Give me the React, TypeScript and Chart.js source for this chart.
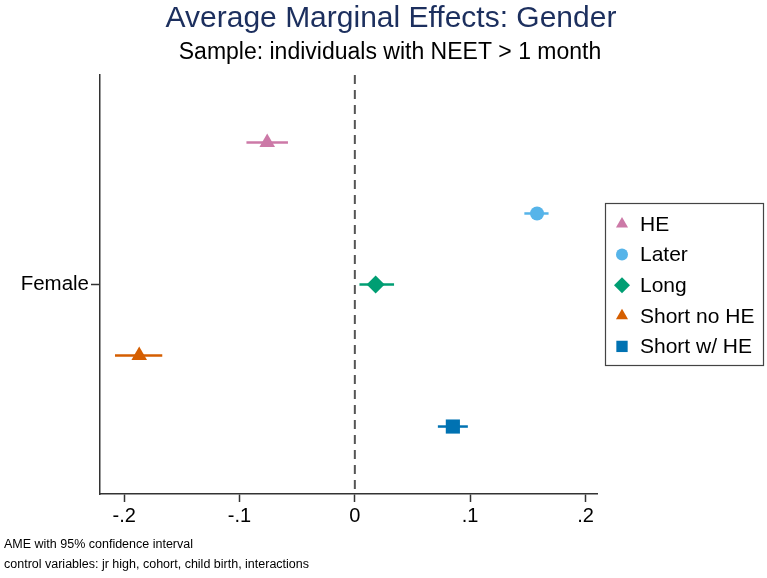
import React, { useEffect, useRef } from "react";
import { Chart, registerables } from "chart.js";

Chart.register(...registerables);

const seriesNames = ["HE", "Later", "Long", "Short no HE", "Short w/ HE"];
const estimates = [-0.076, 0.158, 0.018, -0.187, 0.085];
const ciLower = [-0.094, 0.147, 0.004, -0.208, 0.072];
const ciUpper = [-0.058, 0.168, 0.034, -0.167, 0.098];
const rowOffsets = [2, 1, 0, -1, -2];
const colors = ["#cc79a7", "#56b4e9", "#009e73", "#d55e00", "#0072b2"];
const markers = ["triangle", "circle", "rectRot", "triangle", "rect"];
const markerRadius = [9, 7, 9, 9, 10];
const xTicks = [-0.2, -0.1, 0, 0.1, 0.2];
const yCategory = "Female";

const FONT = "'Liberation Sans', Arial, sans-serif";

function fmt(v: number) {
  if (Math.abs(v) < 1e-9) return "0";
  const s = v.toFixed(1);
  return s.replace("0.", ".");
}

function drawPt(ctx: CanvasRenderingContext2D, style: string, r: number, x: number, y: number, c: string) {
  ctx.save();
  ctx.fillStyle = c;
  ctx.beginPath();
  if (style === "triangle") {
    const rad = -Math.PI / 2;
    ctx.moveTo(x + Math.cos(rad) * r, y + Math.sin(rad) * r);
    ctx.lineTo(x + Math.cos(rad + (2 * Math.PI) / 3) * r, y + Math.sin(rad + (2 * Math.PI) / 3) * r);
    ctx.lineTo(x + Math.cos(rad + (4 * Math.PI) / 3) * r, y + Math.sin(rad + (4 * Math.PI) / 3) * r);
    ctx.closePath();
  } else if (style === "circle") {
    ctx.arc(x, y, r, 0, Math.PI * 2);
  } else if (style === "rectRot") {
    ctx.moveTo(x, y - r);
    ctx.lineTo(x + r, y);
    ctx.lineTo(x, y + r);
    ctx.lineTo(x - r, y);
    ctx.closePath();
  } else {
    const s = r * Math.SQRT1_2;
    ctx.rect(x - s, y - s, 2 * s, 2 * s);
  }
  ctx.fill();
  ctx.restore();
}

const decorPlugin = {
  id: "decor",
  beforeDatasetsDraw(chart: any) {
    const { ctx, chartArea, scales } = chart;
    const x0 = scales.x.getPixelForValue(0);
    ctx.save();
    ctx.strokeStyle = "#555555";
    ctx.lineWidth = 2;
    ctx.setLineDash([9, 6]);
    ctx.beginPath();
    ctx.moveTo(x0, chartArea.top);
    ctx.lineTo(x0, chartArea.bottom);
    ctx.stroke();
    ctx.restore();
  },
  afterDraw(chart: any) {
    const { ctx } = chart;
    ctx.save();
    ctx.textAlign = "center";
    ctx.textBaseline = "middle";
    ctx.fillStyle = "#1c2f5e";
    ctx.font = `30px ${FONT}`;
    ctx.fillText("Average Marginal Effects: Gender", 391, 19);
    ctx.fillStyle = "#000000";
    ctx.font = `23px ${FONT}`;
    ctx.fillText("Sample: individuals with NEET > 1 month", 390, 53);

    ctx.textAlign = "left";
    ctx.font = `12.5px ${FONT}`;
    ctx.fillText("AME with 95% confidence interval", 4, 545);
    ctx.fillText("control variables: jr high, cohort, child birth, interactions", 4, 565);

    const lx = 605, ly = 203, lw = 158, lh = 162;
    ctx.fillStyle = "#ffffff";
    ctx.fillRect(lx, ly, lw, lh);
    ctx.strokeStyle = "#444444";
    ctx.lineWidth = 1.2;
    ctx.strokeRect(lx + 0.5, ly + 0.5, lw, lh);
    const legendR = [7, 6, 8, 7, 8];
    seriesNames.forEach((name, i) => {
      const yy = 224 + i * 30.6;
      drawPt(ctx, markers[i], legendR[i], 622, yy, colors[i]);
      ctx.fillStyle = "#000000";
      ctx.font = `21px ${FONT}`;
      ctx.textBaseline = "middle";
      ctx.fillText(name, 640, yy + 1);
    });
    ctx.restore();
  },
};

export default function App() {
  const ref = useRef<HTMLCanvasElement>(null);
  useEffect(() => {
    if (!ref.current) return;
    const datasets: any[] = [];
    seriesNames.forEach((name, i) => {
      datasets.push({
        type: "line",
        label: name + " CI",
        data: [
          { x: ciLower[i], y: rowOffsets[i] },
          { x: ciUpper[i], y: rowOffsets[i] },
        ],
        borderColor: colors[i],
        borderWidth: 2.5,
        pointRadius: 0,
        showLine: true,
        order: 2,
      });
      datasets.push({
        type: "scatter",
        label: name,
        data: [{ x: estimates[i], y: rowOffsets[i] }],
        backgroundColor: colors[i],
        borderColor: colors[i],
        borderWidth: 0,
        pointStyle: markers[i],
        pointRadius: markerRadius[i],
        order: 1,
      });
    });
    const chart = new Chart(ref.current, {
      type: "scatter",
      data: { datasets },
      options: {
        animation: false,
        responsive: false,
        layout: { padding: { left: 0, top: 75, right: 170, bottom: 0 } },
        plugins: { legend: { display: false }, tooltip: { enabled: false }, title: { display: false } },
        scales: {
          x: {
            type: "linear",
            min: -0.221,
            max: 0.21,
            afterBuildTicks: (s: any) => {
              s.ticks = xTicks.map((v) => ({ value: v }));
            },
            afterFit: (s: any) => {
              s.height = 84;
            },
            ticks: {
              callback: (v: any) => fmt(Number(v)),
              font: { family: FONT, size: 20 },
              color: "#000000",
              padding: 2,
              maxRotation: 0,
            },
            grid: { drawOnChartArea: false, drawTicks: true, tickLength: 8, tickColor: "#333333", tickWidth: 1.5 },
            border: { display: true, color: "#333333", width: 1.5 },
          },
          y: {
            type: "linear",
            min: -2.95,
            max: 2.95,
            afterBuildTicks: (s: any) => {
              s.ticks = [{ value: 0 }];
            },
            afterFit: (s: any) => {
              s.width = 100;
            },
            ticks: {
              callback: () => yCategory,
              font: { family: FONT, size: 20.5 },
              color: "#000000",
              padding: 2,
            },
            grid: { drawOnChartArea: false, drawTicks: true, tickLength: 9, tickColor: "#333333", tickWidth: 1.5 },
            border: { display: true, color: "#333333", width: 1.5 },
          },
        },
      },
      plugins: [decorPlugin],
    } as any);
    return () => chart.destroy();
  }, []);
  return (
    <div style={{ position: "fixed", left: 0, top: 0, width: 767, height: 578, background: "#fff" }}>
      <canvas ref={ref} width={767} height={578} style={{ width: 767, height: 578, display: "block" }} />
    </div>
  );
}
